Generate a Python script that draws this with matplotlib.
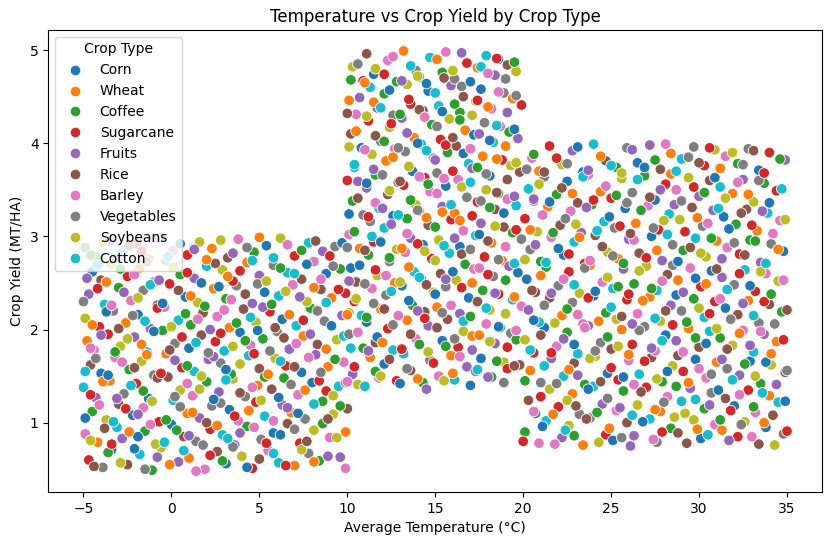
import matplotlib
matplotlib.use("Agg")
import matplotlib.pyplot as plt
import seaborn as sns
import pandas as pd

crop_types = ["Corn", "Wheat", "Coffee", "Sugarcane", "Fruits",
              "Rice", "Barley", "Vegetables", "Soybeans", "Cotton"]

# cold region (-5..10 C), low yields
temp_a = [
    -4.7,-3.9,-3.4,-2.5,-1.8,-1.1,-0.6,0.4,1.0,1.9,2.6,3.1,4.0,4.6,5.5,6.1,7.0,7.8,8.4,9.6,
    -4.9,-4.2,-3.1,-2.8,-1.5,-0.9,0.0,0.7,1.4,2.2,2.9,3.6,4.3,5.1,5.8,6.6,7.3,8.1,9.0,9.9,
    -4.5,-3.7,-3.0,-2.2,-1.6,-0.7,0.1,0.9,1.6,2.3,3.3,3.8,4.8,5.3,6.3,6.8,7.6,8.6,9.2,10.0,
    -5.0,-4.3,-3.5,-2.7,-2.0,-1.3,-0.2,0.5,1.2,2.0,2.7,3.5,4.2,4.9,5.7,6.4,7.2,8.0,8.8,9.5,
    -4.6,-4.0,-3.2,-2.4,-1.7,-1.0,-0.3,0.6,1.3,2.1,2.8,3.4,4.4,5.0,5.9,6.5,7.4,8.2,8.9,9.8,
    -4.8,-4.4,-3.6,-2.9,-2.1,-1.4,-0.5,0.2,1.0,1.7,2.5,3.0,3.9,4.5,5.2,6.0,6.7,7.5,8.3,9.4,
    -4.9,-4.1,-3.3,-2.6,-1.9,-1.2,-0.4,0.4,1.1,1.8,2.6,3.3,4.1,4.8,5.6,6.3,7.1,7.9,8.7,9.7,
    -4.7,-3.8,-3.0,-2.3,-1.6,-0.8,-0.1,0.8,1.5,2.4,3.1,3.7,4.6,5.3,6.1,6.9,7.7,8.5,9.1,9.9,
    -4.5,-4.0,-3.4,-2.5,-1.8,-1.0,-0.3,0.5,1.3,2.0,2.9,3.5,4.3,5.0,5.8,6.6,7.4,8.1,8.8,9.6,
    -4.9,-4.3,-3.5,-2.8,-2.0,-1.3,-0.6,0.1,0.9,1.6,2.3,3.2,3.8,4.7,5.4,6.2,7.0,7.8,8.6,9.3,
]
yield_a = [
    0.60,0.52,0.71,0.55,0.66,0.49,0.73,0.58,0.62,0.50,0.69,0.56,0.64,0.51,0.70,0.57,0.54,0.67,0.59,0.63,
    0.88,0.79,0.95,0.83,0.91,0.77,0.98,0.85,0.80,0.93,0.87,0.76,0.96,0.82,0.89,0.99,0.78,0.92,0.84,0.90,
    1.12,1.03,1.20,1.08,1.16,1.01,1.24,1.10,1.05,1.18,1.14,1.02,1.22,1.07,1.19,1.11,1.04,1.23,1.09,1.15,
    1.38,1.27,1.45,1.31,1.42,1.26,1.49,1.35,1.29,1.44,1.33,1.47,1.28,1.40,1.36,1.48,1.30,1.43,1.34,1.39,
    1.62,1.53,1.70,1.57,1.66,1.51,1.74,1.59,1.55,1.68,1.64,1.52,1.72,1.58,1.69,1.61,1.54,1.73,1.60,1.65,
    1.88,1.78,1.95,1.82,1.92,1.76,1.99,1.85,1.80,1.94,1.87,1.77,1.97,1.83,1.90,1.98,1.79,1.93,1.84,1.89,
    2.12,2.03,2.20,2.07,2.16,2.01,2.24,2.10,2.05,2.18,2.14,2.02,2.22,2.08,2.19,2.11,2.04,2.23,2.09,2.15,
    2.38,2.27,2.45,2.31,2.42,2.26,2.49,2.35,2.29,2.44,2.33,2.47,2.28,2.40,2.36,2.48,2.30,2.43,2.34,2.39,
    2.62,2.53,2.70,2.57,2.66,2.51,2.74,2.59,2.55,2.68,2.64,2.52,2.72,2.58,2.69,2.61,2.54,2.73,2.60,2.65,
    2.88,2.78,2.95,2.82,2.92,2.76,2.99,2.85,2.80,2.94,2.87,2.77,2.97,2.83,2.90,2.98,2.79,2.93,2.84,2.89,
]
crop_a = [
    3,7,0,5,9,2,8,4,1,6,5,0,8,3,6,9,1,7,2,4,
    6,1,9,4,2,8,0,5,7,3,9,4,2,7,0,5,3,8,6,1,
    2,8,5,0,6,3,9,1,4,7,0,6,3,9,4,1,7,2,8,5,
    9,4,1,7,3,0,5,8,6,2,4,8,7,1,5,2,6,0,3,9,
    5,0,6,2,8,7,1,3,9,4,7,2,9,5,8,3,0,4,1,6,
    1,6,3,8,4,9,2,7,0,5,3,9,0,6,2,7,4,1,5,8,
    8,3,7,1,0,4,6,9,2,5,6,1,5,8,3,0,9,2,7,4,
    4,9,2,6,7,5,3,0,8,1,2,7,4,0,9,6,8,5,1,3,
    0,5,8,3,1,6,7,2,4,9,8,3,1,4,7,9,5,6,0,2,
    7,2,4,9,5,1,0,6,3,8,1,5,6,2,0,8,3,9,4,7,
]
temp_a2 = [
    -4.4,-3.6,-2.9,-2.1,-1.5,-0.8,-0.1,0.7,1.4,2.2,2.9,3.5,4.3,5.0,5.8,6.5,7.4,8.1,8.9,9.9,
    -4.6,-3.8,-3.4,-2.4,-1.9,-1.2,-0.4,0.3,1.0,1.8,2.6,3.2,3.9,4.7,5.4,6.2,7.0,7.7,8.6,9.4,
    -4.9,-4.1,-3.3,-2.6,-1.9,-1.1,-0.3,0.5,1.2,2.0,2.8,3.6,4.4,5.1,5.8,6.6,7.2,8.1,8.9,9.6,
    -4.6,-3.9,-3.1,-2.3,-1.6,-0.8,0.2,0.9,1.6,2.4,3.1,3.9,4.6,5.3,6.1,6.8,7.6,8.4,9.2,9.9,
    -4.9,-4.3,-3.6,-2.8,-2.1,-1.4,-0.6,0.2,0.9,1.7,2.4,3.1,3.9,4.7,5.5,6.2,7.0,7.8,8.5,9.3,
    -4.6,-4.0,-3.2,-2.5,-1.7,-1.0,-0.1,0.6,1.4,2.1,2.8,3.5,4.2,4.9,5.6,6.4,7.1,7.9,8.8,9.8,
    -4.5,-3.7,-3.0,-2.2,-1.5,-0.8,0.0,0.8,1.5,2.2,3.0,3.7,4.5,5.2,5.9,6.7,7.5,8.3,9.1,10.1,
    -5.0,-4.2,-3.4,-2.7,-1.9,-1.2,-0.5,0.4,1.1,1.9,2.7,3.4,4.2,4.9,5.7,6.5,7.3,8.1,8.8,9.5,
    -4.8,-4.2,-3.7,-2.9,-2.1,-1.4,-0.7,0.1,0.9,1.7,2.5,3.2,3.9,4.6,5.4,6.2,7.0,7.7,8.5,9.2,
    -4.6,-3.9,-3.1,-2.4,-1.7,-0.9,-0.2,0.5,1.3,2.0,2.8,3.5,4.3,5.0,5.8,6.6,7.4,8.2,9.0,9.7,
]
yield_a2 = [
    0.53,0.68,0.57,0.72,0.50,0.63,0.55,0.70,0.48,0.65,0.59,0.74,0.52,0.61,0.67,0.54,0.71,0.58,0.64,0.51,
    0.81,0.94,0.77,0.90,0.85,0.98,0.79,0.92,0.86,0.76,0.97,0.83,0.89,0.95,0.78,0.87,0.93,0.80,0.99,0.84,
    1.05,1.19,1.01,1.15,1.09,1.23,1.03,1.17,1.11,1.00,1.21,1.07,1.13,1.24,1.02,1.16,1.10,1.20,1.04,1.18,
    1.30,1.44,1.26,1.40,1.34,1.48,1.28,1.42,1.36,1.25,1.46,1.32,1.38,1.49,1.27,1.41,1.35,1.45,1.29,1.43,
    1.55,1.69,1.51,1.65,1.59,1.73,1.53,1.67,1.61,1.50,1.71,1.57,1.63,1.74,1.52,1.66,1.60,1.70,1.54,1.68,
    1.80,1.94,1.76,1.90,1.84,1.98,1.78,1.92,1.86,1.75,1.96,1.82,1.88,1.99,1.77,1.91,1.85,1.95,1.79,1.93,
    2.05,2.19,2.01,2.15,2.09,2.23,2.03,2.17,2.11,2.00,2.21,2.07,2.13,2.24,2.02,2.16,2.10,2.20,2.04,2.18,
    2.30,2.44,2.26,2.40,2.34,2.48,2.28,2.42,2.36,2.25,2.46,2.32,2.38,2.49,2.27,2.41,2.35,2.45,2.29,2.43,
    2.55,2.69,2.51,2.65,2.59,2.73,2.53,2.67,2.61,2.50,2.71,2.57,2.63,2.74,2.52,2.66,2.60,2.70,2.54,2.68,
    2.80,2.94,2.76,2.90,2.84,2.98,2.78,2.92,2.86,2.75,2.96,2.82,2.88,2.99,2.77,2.91,2.85,2.95,2.79,2.93,
]
crop_a2 = [
    5,2,8,0,7,4,1,9,6,3,2,7,0,5,9,3,8,1,4,6,
    8,5,3,1,0,6,9,2,4,7,1,9,4,6,3,0,7,5,2,8,
    0,6,9,3,4,8,2,7,1,5,7,3,1,8,6,4,0,9,5,2,
    3,1,4,9,2,5,7,6,8,0,9,5,6,2,0,7,1,3,8,4,
    9,7,0,6,5,1,3,4,2,8,4,0,8,3,1,9,5,6,7,2,
    6,4,2,8,1,0,5,3,9,7,3,8,2,0,7,5,6,4,1,9,
    1,0,5,7,9,3,8,2,6,4,6,2,9,4,5,1,3,7,0,8,
    7,3,6,4,8,9,0,5,1,2,0,6,5,7,2,8,4,1,9,3,
    4,9,1,2,6,7,4,8,3,0,5,1,3,9,8,2,9,0,6,7,
    2,8,7,5,3,6,9,0,4,1,8,4,7,1,9,6,2,5,3,0,
]

# mild region (10..20 C), highest yields
temp_b = [
    10.3,10.6,11.3,11.8,12.1,12.8,13.2,13.6,14.3,14.7,15.2,15.9,16.1,16.8,17.3,17.6,18.2,18.9,19.1,19.8,
    10.1,10.9,11.1,11.6,12.3,12.6,13.4,13.9,14.1,14.6,15.4,15.7,16.3,16.6,17.1,17.9,18.4,18.7,19.3,19.6,
    10.4,10.8,11.4,11.9,12.2,12.9,13.1,13.7,14.4,14.9,15.1,15.6,16.4,16.9,17.4,17.7,18.1,18.6,19.4,19.9,
    10.2,10.5,11.2,11.7,12.4,12.7,13.3,13.8,14.2,14.8,15.3,15.8,16.2,16.7,17.2,17.8,18.3,18.8,19.2,19.7,
    10.1,10.7,11.3,11.5,12.1,12.8,13.4,13.6,14.3,14.6,15.2,15.9,16.4,16.6,17.3,17.6,18.2,18.9,19.4,19.9,
    10.3,10.9,11.1,11.8,12.3,12.6,13.2,13.9,14.1,14.7,15.4,15.6,16.1,16.8,17.4,17.9,18.4,18.6,19.1,19.6,
    10.4,10.6,11.4,11.6,12.2,12.9,13.3,13.7,14.4,14.9,15.1,15.7,16.3,16.9,17.1,17.7,18.1,18.8,19.3,19.8,
    10.2,10.8,11.2,11.9,12.4,12.7,13.1,13.8,14.2,14.8,15.3,15.8,16.2,16.7,17.2,17.8,18.3,18.7,19.2,19.7,
    10.1,10.5,11.3,11.7,12.1,12.6,13.4,13.6,14.3,14.6,15.2,15.9,16.4,16.6,17.3,17.6,18.2,18.9,19.4,19.9,
    10.3,10.9,11.1,11.5,12.3,12.8,13.2,13.9,14.1,14.7,15.4,15.6,16.1,16.8,17.4,17.9,18.4,18.6,19.1,19.6,
]
yield_b = [
    1.52,1.41,1.70,1.48,1.63,1.45,1.74,1.56,1.43,1.67,1.50,1.72,1.46,1.60,1.55,1.69,1.49,1.65,1.58,1.62,
    1.95,1.80,2.08,1.86,2.01,1.78,2.10,1.90,1.83,2.04,1.88,2.11,1.81,1.98,1.93,2.06,1.85,2.02,1.96,1.89,
    2.30,2.15,2.44,2.22,2.37,2.14,2.47,2.26,2.19,2.40,2.24,2.46,2.17,2.34,2.29,2.42,2.21,2.38,2.32,2.25,
    2.66,2.51,2.80,2.58,2.73,2.50,2.83,2.62,2.55,2.76,2.60,2.82,2.53,2.70,2.65,2.78,2.57,2.74,2.68,2.61,
    3.02,2.87,3.16,2.94,3.09,2.86,3.19,2.98,2.91,3.12,2.96,3.18,2.89,3.06,3.01,3.14,2.93,3.10,3.04,2.97,
    3.38,3.23,3.52,3.30,3.45,3.22,3.55,3.34,3.27,3.48,3.32,3.54,3.25,3.42,3.37,3.50,3.29,3.46,3.40,3.33,
    3.74,3.59,3.88,3.66,3.81,3.58,3.91,3.70,3.63,3.84,3.68,3.90,3.61,3.78,3.73,3.86,3.65,3.82,3.76,3.69,
    4.10,3.95,4.24,4.02,4.17,3.94,4.27,4.06,3.99,4.20,4.04,4.26,3.97,4.14,4.09,4.22,4.01,4.18,4.12,4.05,
    4.46,4.31,4.60,4.38,4.53,4.30,4.63,4.42,4.35,4.56,4.40,4.62,4.33,4.50,4.45,4.58,4.37,4.54,4.48,4.41,
    4.82,4.67,4.96,4.74,4.89,4.66,4.99,4.78,4.71,4.92,4.76,4.98,4.69,4.86,4.81,4.94,4.73,4.90,4.84,4.77,
]
crop_b = [
    4,8,1,6,0,3,9,5,2,7,6,1,9,4,7,0,2,8,3,5,
    7,2,0,5,3,9,1,6,8,4,0,5,3,8,1,6,4,9,7,2,
    3,9,6,1,7,4,0,2,5,8,1,7,4,0,5,2,8,3,9,6,
    0,5,2,8,4,1,6,9,7,3,5,9,8,2,6,3,7,1,4,0,
    6,1,7,3,9,8,2,4,0,5,8,3,0,6,9,4,1,5,2,7,
    2,7,4,9,5,0,3,8,1,6,4,0,1,7,3,8,5,2,6,9,
    9,4,8,2,1,5,7,0,3,6,7,2,6,9,4,1,0,3,8,5,
    5,0,3,7,8,6,4,1,9,2,3,8,5,1,0,7,9,6,2,4,
    1,6,9,4,2,7,8,3,5,0,9,4,2,5,8,0,6,7,1,3,
    8,3,5,0,6,2,1,7,4,9,2,6,7,3,1,9,4,0,5,8,
]
temp_b2 = [
    10.0,10.4,11.0,11.6,11.9,12.4,13.0,13.4,14.0,14.5,14.9,15.5,16.0,16.4,17.0,17.4,18.0,18.5,18.9,19.5,
    10.2,10.6,11.2,11.7,12.0,12.6,13.1,13.6,14.1,14.6,15.1,15.6,16.1,16.6,17.1,17.5,18.1,18.6,19.1,19.6,
    10.0,10.5,11.1,11.5,12.1,12.5,12.9,13.5,14.0,14.4,15.0,15.4,15.9,16.5,17.0,17.4,17.9,18.4,19.0,19.5,
    10.1,10.7,11.0,11.6,12.2,12.4,13.0,13.5,14.1,14.5,15.0,15.6,16.0,16.5,17.1,17.5,18.0,18.6,19.0,19.5,
    10.0,10.4,11.0,11.4,11.9,12.5,13.1,13.4,14.0,14.4,15.0,15.5,16.1,16.4,17.0,17.5,18.0,18.4,19.0,19.6,
    10.1,10.6,11.2,11.6,12.0,12.4,12.9,13.6,14.0,14.5,15.1,15.4,15.9,16.5,17.1,17.6,18.1,18.5,18.9,19.5,
    10.0,10.4,11.1,11.5,12.0,12.6,13.0,13.5,14.1,14.6,15.0,15.5,16.0,16.6,17.0,17.4,17.9,18.5,19.1,19.6,
    10.1,10.5,11.0,11.6,12.1,12.5,12.9,13.4,14.0,14.5,15.1,15.6,16.0,16.4,17.0,17.5,18.1,18.5,19.0,19.5,
    10.0,10.7,11.1,11.5,11.9,12.4,13.0,13.5,14.1,14.4,15.0,15.4,16.1,16.5,17.1,17.4,18.0,18.6,19.1,19.6,
    10.2,10.6,11.0,11.6,12.1,12.6,13.1,13.6,14.0,14.5,15.1,15.5,16.0,16.5,17.0,17.6,18.0,18.5,19.0,19.5,
]
yield_b2 = [
    1.44,1.60,1.39,1.55,1.50,1.68,1.42,1.58,1.47,1.36,1.64,1.45,1.53,1.71,1.40,1.57,1.49,1.66,1.43,1.61,
    1.80,1.97,1.77,1.92,1.86,2.05,1.79,1.95,1.84,1.76,2.02,1.82,1.90,2.09,1.78,1.94,1.87,2.03,1.81,1.99,
    2.16,2.33,2.13,2.28,2.22,2.41,2.15,2.31,2.20,2.12,2.38,2.18,2.26,2.45,2.14,2.30,2.23,2.39,2.17,2.35,
    2.52,2.69,2.49,2.64,2.58,2.77,2.51,2.67,2.56,2.48,2.74,2.54,2.62,2.81,2.50,2.66,2.59,2.75,2.53,2.71,
    2.88,3.05,2.85,3.00,2.94,3.13,2.87,3.03,2.92,2.84,3.10,2.90,2.98,3.17,2.86,3.02,2.95,3.11,2.89,3.07,
    3.24,3.41,3.21,3.36,3.30,3.49,3.23,3.39,3.28,3.20,3.46,3.26,3.34,3.53,3.22,3.38,3.31,3.47,3.25,3.43,
    3.60,3.77,3.57,3.72,3.66,3.85,3.59,3.75,3.64,3.56,3.82,3.62,3.70,3.89,3.58,3.74,3.67,3.83,3.61,3.79,
    3.96,4.13,3.93,4.08,4.02,4.21,3.95,4.11,4.00,3.92,4.18,3.98,4.06,4.25,3.94,4.10,4.03,4.19,3.97,4.15,
    4.32,4.49,4.29,4.44,4.38,4.57,4.31,4.47,4.36,4.28,4.54,4.34,4.42,4.61,4.30,4.46,4.39,4.55,4.33,4.51,
    4.68,4.85,4.65,4.80,4.74,4.93,4.67,4.83,4.72,4.64,4.90,4.70,4.78,4.97,4.66,4.82,4.75,4.91,4.69,4.87,
]
crop_b2 = [
    6,3,9,2,8,5,0,7,1,4,3,8,1,6,0,9,4,2,7,5,
    9,6,4,0,1,7,3,5,2,8,5,2,7,9,4,1,8,0,3,6,
    1,8,2,7,5,9,6,0,4,3,0,7,6,3,2,5,9,4,8,1,
    4,0,7,3,6,2,8,1,9,5,8,4,0,5,1,6,3,7,2,9,
    7,2,5,9,0,4,1,6,3,8,2,9,4,1,7,0,5,8,6,3,
    0,5,3,6,4,8,9,2,7,1,6,1,9,8,3,7,2,5,0,4,
    3,9,0,4,7,1,5,8,6,2,4,6,3,0,9,2,7,1,5,8,
    8,1,6,5,2,3,7,4,0,9,7,3,5,2,6,4,0,9,1,0,
    5,4,8,1,9,0,2,3,5,6,9,0,2,7,8,3,1,6,4,7,
    2,7,1,8,3,6,4,9,8,0,1,5,8,4,0,9,6,3,7,2,
]

# hot region (20..35 C), mid yields
temp_c = [
    20.1,20.9,21.3,22.2,22.6,23.4,23.8,24.7,25.1,25.9,26.3,27.2,27.6,28.4,28.8,29.7,30.1,30.9,31.3,32.2,32.6,33.4,33.8,34.8,
    20.3,20.7,21.5,22.0,22.8,23.2,24.0,24.5,25.3,25.7,26.5,27.0,27.8,28.2,29.0,29.5,30.3,30.7,31.5,32.0,32.8,33.2,34.0,34.5,
    20.4,21.0,21.6,22.3,22.9,23.5,24.1,24.8,25.4,26.0,26.6,27.3,27.9,28.5,29.1,29.8,30.4,31.0,31.6,32.3,32.9,33.5,34.1,34.9,
    20.1,20.6,21.2,21.9,22.5,23.1,23.7,24.4,25.0,25.6,26.2,26.9,27.5,28.1,28.7,29.4,30.0,30.6,31.2,31.9,32.5,33.1,33.7,34.4,
    20.3,20.9,21.5,22.2,22.8,23.4,24.0,24.7,25.3,25.9,26.5,27.2,27.8,28.4,29.0,29.7,30.3,30.9,31.5,32.2,32.8,33.4,34.0,34.7,
    20.2,20.7,21.3,22.0,22.6,23.2,23.8,24.5,25.1,25.7,26.3,27.0,27.6,28.2,28.8,29.5,30.1,30.7,31.3,32.0,32.6,33.2,33.8,34.5,
    20.4,21.0,21.6,22.3,22.9,23.5,24.1,24.8,25.4,26.0,26.6,27.3,27.9,28.5,29.1,29.8,30.4,31.0,31.6,32.3,32.9,33.5,34.1,34.8,
    20.1,20.8,21.4,22.1,22.7,23.3,23.9,24.6,25.2,25.8,26.4,27.1,27.7,28.3,28.9,29.6,30.2,30.8,31.4,32.1,32.7,33.3,33.9,34.6,
    20.3,20.6,21.2,21.9,22.5,23.1,23.7,24.4,25.0,25.6,26.2,26.9,27.5,28.1,28.7,29.4,30.0,30.6,31.2,31.9,32.5,33.1,33.7,34.4,
    20.5,20.9,21.5,22.2,22.8,23.4,24.0,24.7,25.3,25.9,26.5,27.2,27.8,28.4,29.0,29.7,30.3,30.9,31.5,32.2,32.8,33.4,34.0,34.9,
]
yield_c = [
    0.90,0.78,1.02,0.84,0.97,0.76,1.05,0.87,0.81,1.00,0.86,1.04,0.79,0.94,0.89,1.03,0.83,0.98,0.92,0.85,1.01,0.77,0.95,0.88,
    1.24,1.10,1.36,1.17,1.31,1.09,1.39,1.20,1.13,1.34,1.19,1.38,1.12,1.28,1.23,1.37,1.15,1.32,1.26,1.18,1.35,1.11,1.29,1.22,
    1.56,1.43,1.69,1.50,1.64,1.41,1.71,1.53,1.46,1.67,1.52,1.70,1.44,1.61,1.55,1.68,1.48,1.65,1.58,1.51,1.66,1.42,1.62,1.54,
    1.89,1.75,2.02,1.82,1.97,1.74,2.04,1.86,1.79,2.00,1.84,2.03,1.77,1.94,1.88,2.01,1.81,1.98,1.91,1.83,1.99,1.76,1.95,1.87,
    2.21,2.08,2.34,2.15,2.29,2.06,2.36,2.18,2.11,2.32,2.17,2.35,2.09,2.26,2.20,2.33,2.13,2.30,2.23,2.16,2.31,2.07,2.27,2.19,
    2.54,2.40,2.67,2.47,2.62,2.39,2.69,2.51,2.44,2.65,2.49,2.68,2.42,2.59,2.53,2.66,2.46,2.63,2.56,2.48,2.64,2.41,2.60,2.52,
    2.86,2.73,2.99,2.80,2.94,2.71,3.01,2.83,2.76,2.97,2.82,3.00,2.74,2.91,2.85,2.98,2.78,2.95,2.88,2.81,2.96,2.72,2.92,2.84,
    3.19,3.05,3.32,3.12,3.27,3.04,3.34,3.16,3.09,3.30,3.14,3.33,3.07,3.24,3.18,3.31,3.11,3.28,3.21,3.13,3.29,3.06,3.25,3.17,
    3.51,3.38,3.64,3.45,3.59,3.36,3.66,3.48,3.41,3.62,3.47,3.65,3.39,3.56,3.50,3.63,3.43,3.60,3.53,3.46,3.61,3.37,3.57,3.49,
    3.84,3.70,3.97,3.77,3.92,3.69,3.99,3.81,3.74,3.95,3.79,3.98,3.72,3.89,3.83,3.96,3.76,3.93,3.86,3.78,3.94,3.71,3.90,3.82,
]
crop_c = [
    2,6,9,4,8,1,7,3,0,5,4,9,7,2,5,8,0,6,1,3,8,5,0,7,
    5,0,8,3,1,7,9,4,6,2,8,3,1,6,9,4,2,7,5,0,3,6,1,9,
    1,7,4,9,5,2,8,0,3,6,9,5,2,8,3,0,6,1,7,4,0,2,8,5,
    8,3,0,6,2,9,4,7,5,1,3,7,6,0,4,1,5,9,2,8,6,9,4,1,
    4,9,5,1,7,6,0,2,8,3,6,1,8,4,7,2,9,3,0,5,1,7,5,2,
    0,5,2,7,3,8,1,6,9,4,2,8,9,5,1,6,3,0,4,7,9,3,6,8,
    7,2,6,0,9,3,5,8,1,4,5,0,4,7,2,9,8,1,6,3,2,4,7,0,
    3,8,1,5,6,4,2,9,7,0,1,6,3,9,8,5,7,4,0,2,5,1,9,6,
    9,4,7,2,0,5,6,1,3,8,7,2,0,3,6,8,4,5,9,1,4,8,2,3,
    6,1,3,8,4,0,9,5,2,7,0,4,5,1,9,7,3,8,6,2,7,0,3,4,
]
temp_c2 = [
    20.0,21.1,21.8,22.4,22.9,23.6,24.3,24.9,25.6,26.1,26.8,27.4,27.9,28.6,29.3,29.9,30.5,31.2,31.7,32.4,33.0,33.7,34.3,35.0,
    20.6,21.0,21.7,22.5,23.0,23.7,24.2,24.8,25.5,26.2,26.7,27.5,28.0,28.7,29.2,29.8,30.6,31.1,31.8,32.3,33.1,33.6,34.2,34.9,
    20.1,21.2,21.9,22.6,23.1,23.8,24.4,25.0,25.7,26.3,26.9,27.6,28.2,28.8,29.4,30.0,30.7,31.3,31.9,32.6,33.2,33.8,34.4,35.0,
    20.4,21.0,21.6,22.3,22.9,23.5,24.1,24.8,25.4,26.0,26.6,27.3,27.9,28.5,29.1,29.8,30.4,31.0,31.6,32.3,32.9,33.5,34.1,34.8,
    20.6,21.2,21.8,22.5,23.1,23.7,24.3,25.0,25.6,26.2,26.8,27.5,28.1,28.7,29.3,30.0,30.6,31.2,31.8,32.5,33.1,33.7,34.3,35.0,
    20.5,21.0,21.6,22.3,22.9,23.5,24.1,24.8,25.4,26.0,26.6,27.3,27.9,28.5,29.1,29.8,30.4,31.0,31.6,32.3,32.9,33.5,34.1,34.8,
    20.1,20.7,21.3,22.0,22.6,23.2,23.8,24.5,25.1,25.7,26.3,27.0,27.6,28.2,28.8,29.5,30.1,30.7,31.3,32.0,32.6,33.2,33.8,34.5,
    20.4,21.1,21.7,22.4,23.0,23.6,24.2,24.9,25.5,26.1,26.7,27.4,28.0,28.6,29.2,29.9,30.5,31.1,31.7,32.4,33.0,33.6,34.2,34.9,
    20.6,20.9,21.5,22.2,22.8,23.4,24.0,24.7,25.3,25.9,26.5,27.2,27.8,28.4,29.0,29.7,30.3,30.9,31.5,32.2,32.8,33.4,34.0,34.7,
    20.2,20.6,21.2,21.9,22.5,23.1,23.7,24.4,25.0,25.6,26.2,26.9,27.5,28.1,28.7,29.4,30.0,30.6,31.2,31.9,32.5,33.1,33.7,34.6,
]
yield_c2 = [
    0.80,0.96,0.77,0.92,0.86,1.04,0.79,0.94,0.84,0.75,1.01,0.82,0.90,1.06,0.78,0.93,0.87,1.03,0.81,0.98,0.85,1.00,0.76,0.91,
    1.12,1.28,1.09,1.24,1.18,1.36,1.11,1.26,1.16,1.08,1.33,1.14,1.22,1.39,1.10,1.25,1.19,1.35,1.13,1.30,1.17,1.32,1.08,1.23,
    1.45,1.61,1.42,1.57,1.51,1.69,1.44,1.59,1.49,1.41,1.66,1.47,1.55,1.72,1.43,1.58,1.52,1.68,1.46,1.63,1.50,1.65,1.41,1.56,
    1.78,1.94,1.75,1.90,1.84,2.02,1.77,1.92,1.82,1.73,1.99,1.80,1.88,2.05,1.76,1.91,1.85,2.01,1.79,1.96,1.83,1.98,1.74,1.89,
    2.10,2.26,2.07,2.22,2.16,2.34,2.09,2.24,2.14,2.06,2.31,2.12,2.20,2.37,2.08,2.23,2.17,2.33,2.11,2.28,2.15,2.30,2.06,2.21,
    2.42,2.58,2.39,2.54,2.48,2.66,2.41,2.56,2.46,2.38,2.63,2.44,2.52,2.69,2.40,2.55,2.49,2.65,2.43,2.60,2.47,2.62,2.38,2.53,
    2.75,2.91,2.72,2.87,2.81,2.99,2.74,2.89,2.79,2.71,2.96,2.77,2.85,3.02,2.73,2.88,2.82,2.98,2.76,2.93,2.80,2.95,2.71,2.86,
    3.07,3.23,3.04,3.19,3.13,3.31,3.06,3.21,3.11,3.03,3.28,3.09,3.17,3.34,3.05,3.20,3.14,3.30,3.08,3.25,3.12,3.27,3.03,3.18,
    3.40,3.56,3.37,3.52,3.46,3.64,3.39,3.54,3.44,3.36,3.61,3.42,3.50,3.67,3.38,3.53,3.47,3.63,3.41,3.58,3.45,3.60,3.36,3.51,
    3.72,3.88,3.69,3.84,3.78,3.96,3.71,3.86,3.76,3.68,3.93,3.74,3.82,3.99,3.70,3.85,3.79,3.95,3.73,3.90,3.77,3.92,3.68,3.83,
]
crop_c2 = [
    3,0,6,9,2,5,8,1,7,4,0,6,3,8,5,1,9,2,4,7,6,1,8,3,
    6,3,1,8,5,0,2,7,4,9,5,1,7,2,8,9,4,0,3,6,2,9,5,0,
    2,9,7,1,4,8,5,3,0,6,3,8,0,5,1,6,7,4,9,2,8,0,4,7,
    9,5,3,4,0,6,7,2,8,1,7,4,9,3,6,2,0,8,5,1,4,6,1,3,
    0,7,8,2,6,3,1,9,5,4,1,9,5,0,2,8,3,6,7,4,9,3,7,5,
    5,1,4,6,9,7,0,8,2,3,8,2,6,7,4,0,1,5,9,3,0,8,2,6,
    8,4,9,0,3,1,6,5,7,2,6,3,1,9,0,5,8,2,4,7,5,2,9,1,
    1,6,2,7,8,4,9,0,3,5,2,7,8,4,3,1,6,9,0,5,3,4,6,8,
    4,8,0,5,1,9,3,6,2,7,9,5,4,1,7,3,2,0,8,6,1,7,0,9,
    7,2,5,3,7,0,4,1,9,8,4,0,2,6,9,7,5,3,1,8,7,5,3,2,
]

temps = temp_a + temp_a2 + temp_b + temp_b2 + temp_c + temp_c2
yields = yield_a + yield_a2 + yield_b + yield_b2 + yield_c + yield_c2
crops = crop_a + crop_a2 + crop_b + crop_b2 + crop_c + crop_c2

df = pd.DataFrame({
    "Average_Temperature_C": temps,
    "Crop_Yield_MT_per_HA": yields,
    "Crop Type": [crop_types[i] for i in crops],
})

fig = plt.figure(figsize=(8.33, 5.45), dpi=100)
ax = fig.add_subplot(111)
fig.subplots_adjust(left=0.058, right=0.987, top=0.945, bottom=0.097)

sns.scatterplot(data=df, x="Average_Temperature_C", y="Crop_Yield_MT_per_HA",
                hue="Crop Type", hue_order=crop_types, palette="tab10", s=58, ax=ax)

ax.set_title("Temperature vs Crop Yield by Crop Type")
ax.set_xlabel("Average Temperature (°C)")
ax.set_ylabel("Crop Yield (MT/HA)")
ax.legend(title="Crop Type", loc="upper left")

fig.savefig("out.png", dpi=100)
